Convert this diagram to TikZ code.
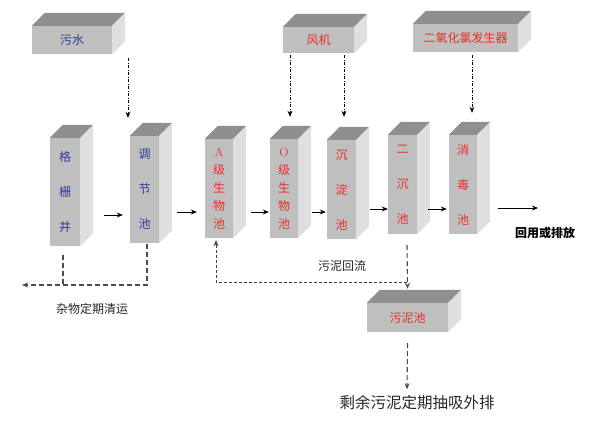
\documentclass[tikz,border=0pt]{standalone}
\usepackage{fontspec}
\newfontfamily\cjk{Noto Sans CJK SC}
\usetikzlibrary{arrows.meta}
\definecolor{frontgray}{HTML}{BFBFBF}
\definecolor{topgray}{HTML}{8F8F8F}
\definecolor{sidegray}{HTML}{DFDFDF}
\definecolor{bluetxt}{HTML}{2B3A9E}
\definecolor{redtxt}{HTML}{E8302A}
\tikzset{
  blk/.style={fill=frontgray,inner sep=0pt,font=\cjk\fontsize{12}{14}\selectfont},
  flatblk/.style={blk},
  tallblk/.style={blk,align=center,font=\cjk\fontsize{12}{35}\selectfont},
  densblk/.style={tallblk,font=\cjk\fontsize{12}{18}\selectfont},
  lbl/.style={font=\cjk\fontsize{12}{14}\selectfont,text=black!85},
  arr/.style={-{Stealth[length=6pt,width=5pt]},line width=0.8pt},
  feed/.style={arr,dash pattern=on 3pt off 1.5pt on 1pt off 1.5pt},
  drain/.style={arr,dash pattern=on 5pt off 3pt,line width=1.1pt,draw=black!70},
  ret/.style={arr,dash pattern=on 3pt off 2pt,draw=black!75}
}
\begin{document}
\begin{tikzpicture}[x=1pt,y=-1pt]
  \useasboundingbox (0,0) rectangle (593,422);
  % Supply boxes
  \node[flatblk,minimum width=80pt,minimum height=28pt,text=bluetxt] (wushui) at (72,40) {污水};
  \node[flatblk,minimum width=71pt,minimum height=26pt,text=redtxt] (fengji) at (318.5,40) {风机};
  \node[flatblk,minimum width=105pt,minimum height=28pt,text=redtxt] (clo2) at (465.5,38) {二氧化氯发生器};

  % Treatment tanks
  \node[tallblk,minimum width=30pt,minimum height=108pt,text=bluetxt] (geshan) at (65,192) {格\\栅\\井};
  \node[tallblk,minimum width=29pt,minimum height=107pt,text=bluetxt] (tiaojie) at (144.5,189.5) {调\\节\\池};
  \node[densblk,minimum width=28pt,minimum height=99pt,text=redtxt] (Achi) at (219,188.5) {{\rmfamily A}\\级\\生\\物\\池};
  \node[densblk,minimum width=28pt,minimum height=99pt,text=redtxt] (Ochi) at (284,188.5) {{\rmfamily O}\\级\\生\\物\\池};
  \node[tallblk,minimum width=29pt,minimum height=99pt,text=redtxt] (chendian) at (341.5,189.5) {沉\\淀\\池};
  \node[tallblk,minimum width=29pt,minimum height=99pt,text=redtxt] (erchen) at (402.5,184.5) {二\\沉\\池};
  \node[tallblk,minimum width=28pt,minimum height=99pt,text=redtxt] (xiaodu) at (463,184.5) {消\\毒\\池};

  % Sludge tank
  \node[flatblk,minimum width=81pt,minimum height=29pt,text=redtxt] (wuni) at (407.5,317.5) {污泥池};

  % Top and side faces
  \foreach \b in {wushui,fengji,clo2,geshan,tiaojie,Achi,Ochi,chendian,erchen,xiaodu,wuni} {
    \fill[topgray] (\b.north west) -- ++(13,-13) -- ([shift={(13,-13)}]\b.north east) -- (\b.north east) -- cycle;
    \fill[sidegray] (\b.north east) -- ++(13,-13) -- ([shift={(13,-13)}]\b.south east) -- (\b.south east) -- cycle;
  }

  % Labels
  \node[lbl] (wastelbl) at (92,309) {杂物定期清运};
  \node[lbl] (retlbl) at (342,266) {污泥回流};
  \node[lbl,font=\cjk\bfseries\fontsize{12}{14}\selectfont,text=black] (reuse) at (545,233) {回用或排放};
  \node[lbl,font=\cjk\fontsize{15.5}{18}\selectfont] (rest) at (417,403) {剩余污泥定期抽吸外排};
  \coordinate (waste) at (22,285);
  \coordinate (out) at (538,208);

  % Feeds
  \draw[feed] ([shift={(56,4)}]wushui.south) -- ([shift={(-16.5,-18)}]tiaojie.north);
  \draw[feed] ([shift={(-28.5,2)}]fengji.south) -- ([shift={(6,-22)}]Ochi.north);
  \draw[feed] ([shift={(25.5,2)}]fengji.south) -- ([shift={(2.5,-23)}]chendian.north);
  \draw[feed] ([shift={(6.5,3)}]clo2.south) -- ([shift={(9,-22)}]xiaodu.north);

  % Main flow
  \draw[arr] ([shift={(24,23)}]geshan.east) -- ([shift={(-7,25.5)}]tiaojie.west);
  \draw[arr] ([shift={(18,22.5)}]tiaojie.east) -- ([shift={(-8,23.5)}]Achi.west);
  \draw[arr] ([shift={(18,23.5)}]Achi.east) -- ([shift={(-1,23.5)}]Ochi.west);
  \draw[arr] ([shift={(14,23.5)}]Ochi.east) -- ([shift={(-1,22.5)}]chendian.west);
  \draw[arr] ([shift={(14,19.5)}]chendian.east) -- ([shift={(0,24.5)}]erchen.west);
  \draw[arr] ([shift={(11,24.5)}]erchen.east) -- ([shift={(-2,24.5)}]xiaodu.west);
  \draw[arr] ([shift={(21,23.5)}]xiaodu.east) -- (out);

  % Screenings removal
  \draw[drain,-] ([shift={(-2,9)}]geshan.south) -- ([xshift=-2pt]geshan.south |- waste);
  \draw[drain] ([shift={(2.5,1)}]tiaojie.south) |- (waste);

  % Sludge return and disposal
  \draw[drain] ([shift={(4.5,11)}]erchen.south) -- ([shift={(0,-14)}]wuni.north);
  \draw[ret] ([shift={(4.5,48)}]erchen.south) -| ([shift={(-3,2)}]Achi.south);
  \draw[drain,shorten >=3pt] ([shift={(0,11)}]wuni.south) -- ([xshift=-10pt]rest.north);
\end{tikzpicture}
\end{document}
